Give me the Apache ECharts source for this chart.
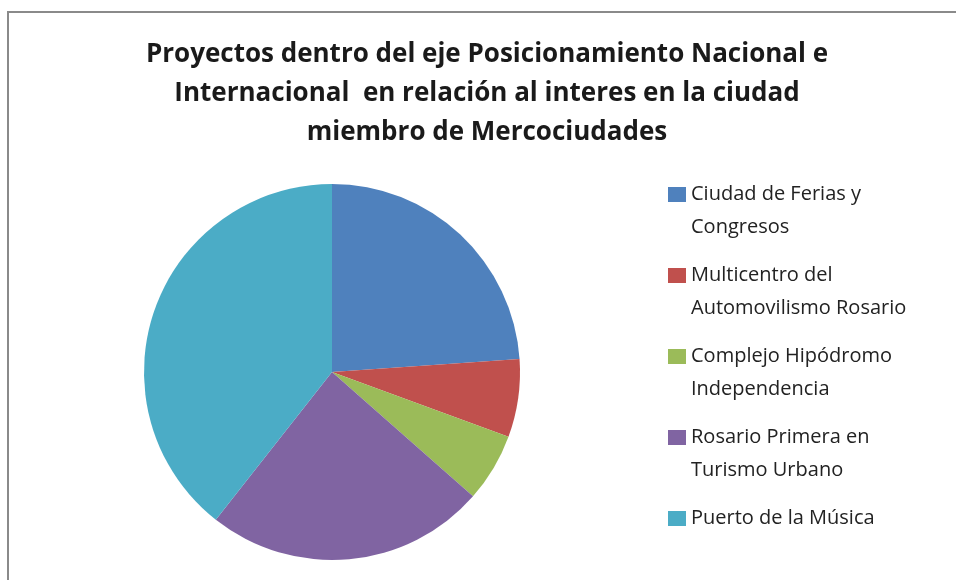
<!DOCTYPE html>
<html lang="es">
<head>
    <meta charset="UTF-8">
    <title>Proyectos - Posicionamiento Nacional e Internacional</title>
    <script src="https://cdn.jsdelivr.net/npm/echarts@6/dist/echarts.min.js"></script>
    <style>
        html, body { margin: 0; padding: 0; background: #fff; }
    </style>
</head>
<body>
    <div id="main" style="width: 956px;height:580px;"></div>
    <script type="text/javascript">
        // datos
        var proyectos = [
            'Ciudad de Ferias y Congresos',
            'Multicentro del Automovilismo Rosario',
            'Complejo Hipódromo Independencia',
            'Rosario Primera en Turismo Urbano',
            'Puerto de la Música'
        ];
        // como se corta cada nombre en la leyenda
        var etiquetas = [
            'Ciudad de Ferias y\nCongresos',
            'Multicentro del\nAutomovilismo Rosario',
            'Complejo Hipódromo\nIndependencia',
            'Rosario Primera en\nTurismo Urbano',
            'Puerto de la Música'
        ];
        var valores = [23.9, 6.7, 5.9, 24.1, 39.4];
        var colores = ['#4F81BD', '#C0504D', '#9BBB59', '#8064A2', '#4BACC6'];

        var myChart = echarts.init(document.getElementById('main'));

        var datos = proyectos.map(function (p, i) {
            return { name: p, value: valores[i], itemStyle: { color: colores[i] } };
        });

        var option = {
            backgroundColor: '#fff',
            animation: false,
            title: {
                text: 'Proyectos dentro del eje Posicionamiento Nacional e\nInternacional  en relación al interes en la ciudad\nmiembro de Mercociudades',
                left: 487,
                top: 35,
                padding: 0,
                textAlign: 'center',
                textStyle: {
                    fontFamily: 'Open Sans',
                    fontWeight: 'bold',
                    fontSize: 26,
                    lineHeight: 39,
                    color: '#1a1a1a'
                }
            },
            legend: {
                orient: 'vertical',
                left: 668,
                top: 145,
                padding: 0,
                itemGap: -18,
                itemWidth: 18,
                itemHeight: 15,
                icon: 'rect',
                selectedMode: false,
                data: proyectos,
                // linea vacia arriba (y abajo si hace falta) para que el cuadro quede en la primera linea
                formatter: function (name) {
                    var t = etiquetas[proyectos.indexOf(name)];
                    return t.indexOf('\n') >= 0 ? '\n' + t : '\n' + t + '\n';
                },
                textStyle: {
                    fontFamily: 'Open Sans',
                    fontSize: 20,
                    lineHeight: 33,
                    color: '#222'
                }
            },
            graphic: [{
                type: 'rect',
                shape: { x: 8, y: 12, width: 1000, height: 700 },
                style: { fill: 'none', stroke: '#8a8a8a', lineWidth: 2 },
                silent: true
            }],
            series: [{
                type: 'pie',
                center: [332, 372],
                radius: 188,
                startAngle: 90,
                clockwise: true,
                label: { show: false },
                labelLine: { show: false },
                emphasis: { disabled: true },
                itemStyle: { borderWidth: 0 },
                data: datos
            }]
        };

        myChart.setOption(option);
    </script>
</body>
</html>
